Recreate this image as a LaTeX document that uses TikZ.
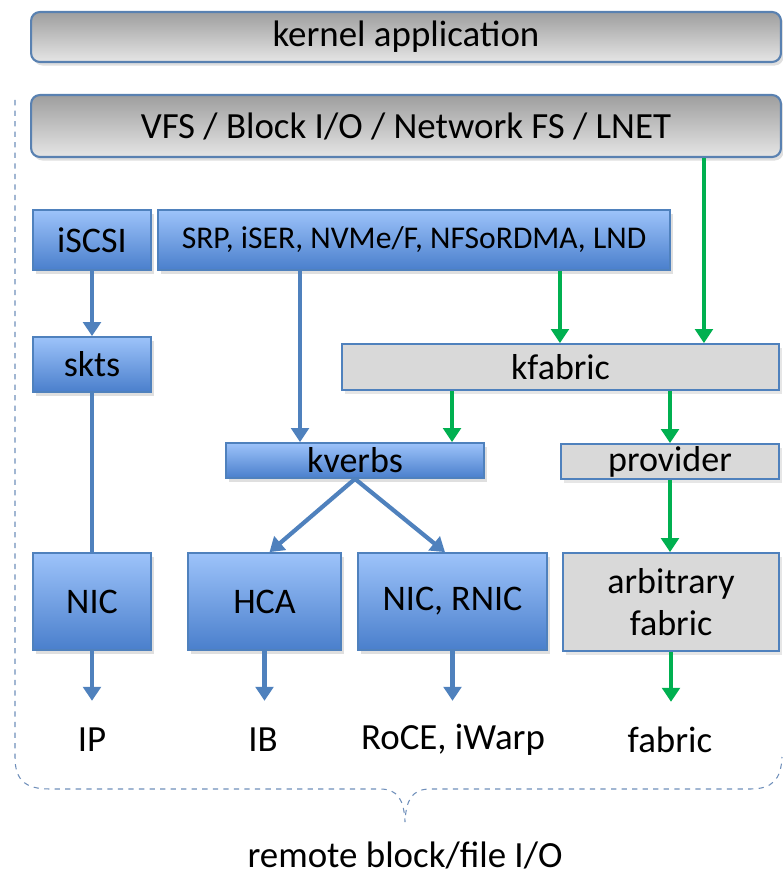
\documentclass[tikz,border=0pt]{standalone}
\usepackage{fontspec}
\setmainfont{Carlito}
\usetikzlibrary{arrows.meta, shadows, calc}

\definecolor{boxline}{HTML}{4F81BD}
\definecolor{bluetop}{HTML}{9DC3FA}
\definecolor{bluebot}{HTML}{4A7FCC}
\definecolor{fabgray}{HTML}{D9D9D9}
\definecolor{arrgreen}{HTML}{00B050}
\definecolor{bracecol}{HTML}{6F8FBA}

\begin{document}
\begin{tikzpicture}[x=0.02cm, y=-0.02cm,
  layer/.style={draw=boxline!80!gray, line width=1.2pt, rounded corners=5pt,
    top color=black!38, bottom color=black!10, minimum width=15cm,
    drop shadow={opacity=0.25, shadow xshift=1.5pt, shadow yshift=-2pt},
    font=\fontsize{21}{24}\selectfont},
  bluebox/.style={draw=boxline, line width=1pt, top color=bluetop, bottom color=bluebot,
    drop shadow={opacity=0.25, shadow xshift=1.5pt, shadow yshift=-2pt},
    inner sep=0pt, font=\fontsize{20.5}{24}\selectfont},
  graybox/.style={draw=boxline, line width=1pt, fill=fabgray,
    drop shadow={opacity=0.2, shadow xshift=1.5pt, shadow yshift=-2pt},
    inner sep=0pt, font=\fontsize{20.5}{24}\selectfont},
  wire/.style={draw=boxline, line width=2.4pt},
  blu/.style={wire, -{Triangle[length=8pt,width=10pt]}},
  grn/.style={draw=arrgreen, line width=2.4pt, -{Triangle[length=8pt,width=10pt]}},
  lbl/.style={font=\fontsize{21}{24}\selectfont}]

\useasboundingbox (0,0) rectangle (782,875);

% brace round the lower layers
\draw[bracecol, dashed, line width=0.6pt] (15,100) -- (15,757)
  .. controls (15,780) and (25,789) .. (50,789) -- (380,789)
  .. controls (398,789) and (404,800) .. (405,822)
  .. controls (406,800) and (412,789) .. (430,789) -- (750,789)
  .. controls (772,789) and (781,780) .. (782,757);

\node[layer, minimum height=1cm] (kapp) at (406,37) {kernel application};
\node[layer, minimum height=1.24cm] (vfs) at (406,126) {VFS / Block I/O / Network FS / LNET};

\node[bluebox, minimum width=2.36cm, minimum height=1.2cm] (iscsi) at (92,240) {iSCSI};
\node[bluebox, minimum width=10.24cm, minimum height=1.2cm, font=\fontsize{18}{20}\selectfont] (srp) at (414,240) {SRP, iSER, NVMe/F, NFSoRDMA, LND};
\node[bluebox, minimum width=2.36cm, minimum height=1.1cm] (skts) at (92,364.5) {skts};
\node[graybox, minimum width=8.74cm, minimum height=0.92cm] (kfab) at (560.5,367) {kfabric};
\node[bluebox, minimum width=5.16cm, minimum height=0.7cm] (kverbs) at (355,460.5) {kverbs};
\node[graybox, minimum width=4.36cm, minimum height=0.7cm] (prov) at (670,461.5) {provider};

\node[bluebox, minimum width=2.36cm, minimum height=1.94cm] (nic) at (92,601.5) {NIC};
\node[bluebox, minimum width=3.06cm, minimum height=1.94cm] (hca) at (264.5,601.5) {HCA};
\node[bluebox, minimum width=3.78cm, minimum height=1.94cm] (rnic) at (452.5,601.5) {NIC, RNIC};
\node[graybox, minimum width=4.32cm, minimum height=1.96cm, align=center] (arb) at (671,602) {arbitrary\\fabric};

\node[lbl] (ip) at (92,740) {IP};
\node[lbl] (ib) at (263,740) {IB};
\node[lbl] (roce) at (453,740) {RoCE, iWarp};
\node[lbl] (fab) at (670,740) {fabric};
\node[lbl] (remote) at (405,855) {remote block/file I/O};

% sockets path
\draw[blu] (iscsi.south) -- (skts.north);
\draw[wire] (skts.south) -- (nic.north);
\draw[blu] (nic.south) -- ++(0,50);
% verbs path
\draw[blu] ([xshift=-2.28cm]srp.south) -- ([xshift=-2.28cm]srp.south |- kverbs.north);
\draw[blu] (kverbs.south) -- ([xshift=0.1cm]hca.north);
\draw[blu] (kverbs.south) -- ([xshift=-0.15cm]rnic.north);
\draw[blu] (hca.south) -- ++(0,50);
\draw[blu] (rnic.south) -- ++(0,50);
% fabric path
\draw[grn] ([xshift=2.92cm]srp.south) -- ([xshift=2.92cm]srp.south |- kfab.north);
\draw[grn] ([xshift=5.96cm]vfs.south) -- ([xshift=5.96cm]vfs.south |- kfab.north);
\draw[grn] ([xshift=-2.17cm]kfab.south) -- ([xshift=-2.17cm]kfab.south |- kverbs.north);
\draw[grn] (kfab.south -| prov.north) -- (prov.north);
\draw[grn] (prov.south) -- (prov.south |- arb.north);
\draw[grn] (arb.south) -- ++(0,50);

\end{tikzpicture}
\end{document}
